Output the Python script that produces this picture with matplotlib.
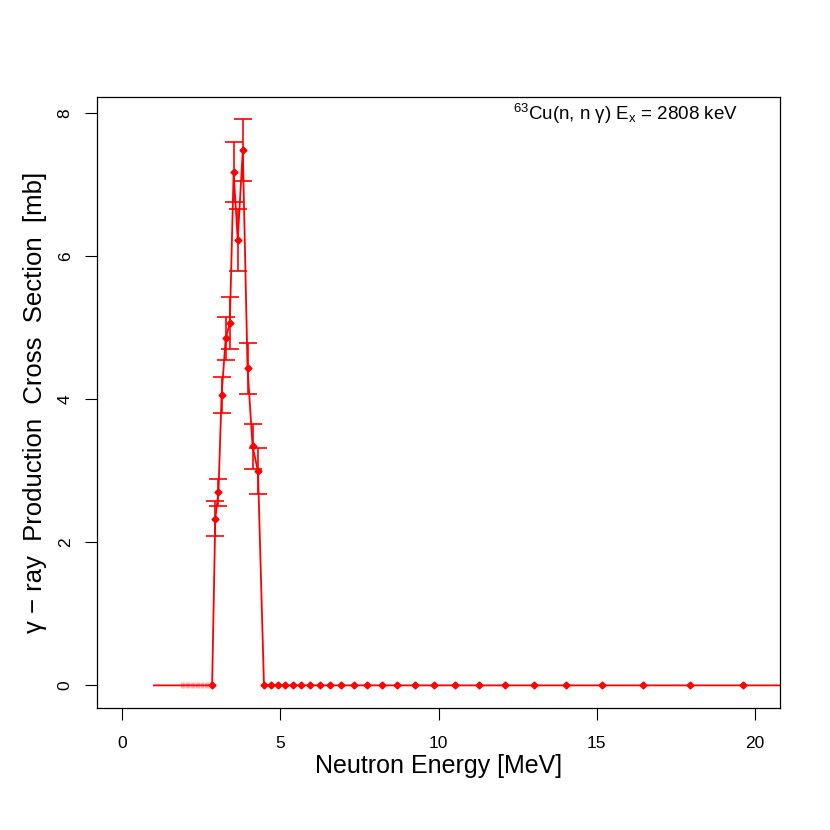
import matplotlib
matplotlib.use("Agg")
import matplotlib.pyplot as plt

plt.rcParams['font.family'] = ['Liberation Sans', 'DejaVu Sans']
plt.rcParams['mathtext.fontset'] = 'custom'
plt.rcParams['mathtext.rm'] = 'Liberation Sans'
plt.rcParams['mathtext.it'] = 'Liberation Sans:italic'

# start of the flat line and the dense zero points below threshold
low_e = [1.0, 1.84, 1.88, 1.92, 1.96, 2.00, 2.04, 2.08, 2.12, 2.16, 2.20, 2.24,
         2.28, 2.32, 2.36, 2.40, 2.44, 2.48, 2.52, 2.56, 2.60, 2.64, 2.68,
         2.72, 2.76, 2.80]

# measured points
energy = [2.84, 2.94, 3.04, 3.14, 3.27, 3.40, 3.52, 3.65, 3.81, 3.96, 4.12, 4.29,
          4.48, 4.69, 4.91, 5.14, 5.39, 5.64, 5.93, 6.24, 6.57, 6.92, 7.32,
          7.74, 8.21, 8.70, 9.25, 9.85, 10.53, 11.28, 12.09, 13.01, 14.02,
          15.18, 16.48, 17.95, 19.63]
xsec = [0, 2.33, 2.70, 4.06, 4.85, 5.06, 7.17, 6.22, 7.48, 4.43, 3.34, 2.99,
        0, 0, 0, 0, 0, 0, 0, 0, 0, 0, 0, 0, 0, 0, 0, 0, 0, 0, 0, 0, 0, 0, 0, 0, 0]
err = [0, 0.25, 0.19, 0.25, 0.30, 0.36, 0.42, 0.43, 0.43, 0.36, 0.31, 0.32,
       0, 0, 0, 0, 0, 0, 0, 0, 0, 0, 0, 0, 0, 0, 0, 0, 0, 0, 0, 0, 0, 0, 0, 0, 0]
end_e = 21.6

fig = plt.figure(figsize=(8.3, 8.3), dpi=100)
ax = fig.add_axes([0.1169, 0.147, 0.8229, 0.7361])

# connecting line (also runs off the right edge)
line_x = [low_e[0]] + energy + [end_e]
line_y = [0] + xsec + [0]
ax.plot(line_x, line_y, color='red', lw=1.3, zorder=2)

# faint pile-up of zero points under threshold
ax.plot(low_e[1:], [0] * (len(low_e) - 1), ls='none', marker='|', ms=4,
        mew=0.8, color='red', alpha=0.3, zorder=2)

# error bars only where err > 0
ex = [e for e, s in zip(energy, err) if s > 0]
ey = [y for y, s in zip(xsec, err) if s > 0]
es = [s for s in err if s > 0]
ax.errorbar(ex, ey, yerr=es, fmt='none', ecolor='red', elinewidth=1.2,
            capsize=6.5, capthick=1.2, zorder=3)

ax.plot(energy, xsec, ls='none', marker='D', ms=3.5, color='red', zorder=4)

ax.set_xlim(-0.8, 20.8)
ax.set_ylim(-0.316, 8.22)
ax.set_xticks([0, 5, 10, 15, 20])
ax.set_yticks([0, 2, 4, 6, 8])
ax.tick_params(direction='out', length=8.5, width=0.8, labelsize=12.5)
ax.tick_params(axis='x', pad=12)
ax.tick_params(axis='y', pad=9)
for lab in ax.get_yticklabels():
    lab.set_rotation(90)
    lab.set_va('center')
for s in ax.spines.values():
    s.set_linewidth(0.9)

ax.set_xlabel('Neutron Energy [MeV]', fontsize=18, labelpad=2)
ax.set_ylabel('γ − ray  Production  Cross  Section  [mb]', fontsize=18.5, labelpad=8)

ax.text(12.37, 8.15, r'$^{63}$Cu(n, n γ) E$_{\mathrm{x}}$ = 2808 keV',
        fontsize=13.5, ha='left', va='top')

fig.savefig('out.png', dpi=100)
